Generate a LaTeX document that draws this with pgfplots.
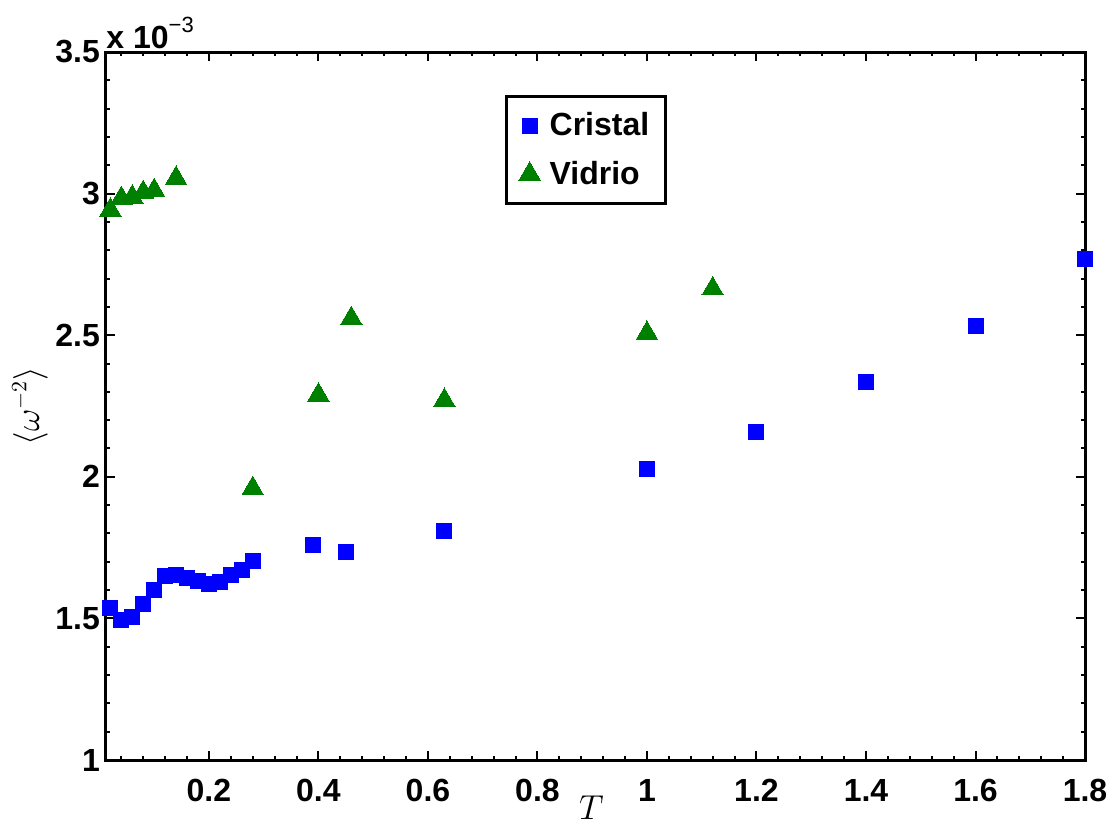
\documentclass[border=0pt]{standalone}
\usepackage{fontspec}
\setmainfont{Liberation Sans}
\usepackage{pgfplots}
\pgfplotsset{compat=1.18}
\definecolor{mblue}{RGB}{0,0,255}
\definecolor{mgreen}{RGB}{0,128,0}
\begin{document}
\begin{tikzpicture}
\path[use as bounding box] (-53pt,-35.5pt) rectangle (503pt,380pt);
\begin{axis}[
  at={(0,0)}, anchor=south west,
  scale only axis, width=489.5pt, height=354pt,
  xmin=0.012, xmax=1.8, ymin=1, ymax=3.5,
  xtick={0.2,0.4,0.6,0.8,1,1.2,1.4,1.6,1.8},
  xticklabels={0.2,0.4,0.6,0.8,1,1.2,1.4,1.6,1.8},
  ytick={1,1.5,2,2.5,3,3.5},
  yticklabels={1,1.5,2,2.5,3,3.5},
  minor xtick={0.04,0.08,...,1.79},
  minor ytick={1.1,1.2,...,3.45},
  tick align=inside, tick pos=both,
  major tick length=4.5pt, minor tick length=2.2pt,
  every tick/.style={black, line width=1pt},
  axis line style={line width=1.5pt},
  ticklabel style={font=\fontsize{16}{19}\selectfont\bfseries},
  xticklabel style={yshift=-6pt},
  yticklabel style={xshift=0.5pt},
  xlabel={$T$},
  ylabel={$\langle\omega^{-2}\rangle$},
  every axis x label/.style={at={(axis description cs:0.5,0)}, anchor=center, xshift=-2pt, yshift=-24pt, font=\fontsize{16}{19}\selectfont},
  every axis y label/.style={at={(axis description cs:0,0.5)}, anchor=center, xshift=-38pt, rotate=90, font=\fontsize{16}{19}\selectfont},
  legend style={at={(axis description cs:0.408,0.939)}, anchor=north west, draw=black, line width=1.5pt,
    font=\fontsize{16}{19}\selectfont\bfseries, inner xsep=6pt, inner ysep=6pt, row sep=7pt,
    legend cell align=left},
  legend image code/.code={\path[draw=none, fill=none] (0.3cm-4pt,0) -- (0.3cm+8pt,0); \draw[#1, line width=0.4pt] plot coordinates {(0.3cm,0cm)};},
  clip=false,
]
\addplot[only marks, mark=square*, mark size=3.75pt, mark options={draw=mblue, fill=mblue, line width=0pt}] coordinates {
(0.02,1.535) (0.04,1.495) (0.06,1.506) (0.08,1.551) (0.10,1.602) (0.12,1.649) (0.14,1.654)
(0.16,1.641) (0.18,1.631) (0.20,1.621) (0.22,1.627) (0.24,1.652) (0.26,1.671) (0.28,1.703)
(0.39,1.759) (0.45,1.734) (0.63,1.810) (1.0,2.029) (1.2,2.158) (1.4,2.335) (1.6,2.532) (1.8,2.769)
};
\addlegendentry{Cristal}
\addplot[only marks, mark=triangle*, mark size=6.2pt, mark options={draw=mgreen, fill=mgreen, line width=0pt}] coordinates {
(0.02,2.942) (0.04,2.983) (0.06,2.988) (0.08,3.004) (0.10,3.011) (0.14,3.054)
(0.28,1.959) (0.40,2.289) (0.46,2.559) (0.63,2.270) (1.0,2.507) (1.12,2.664)
};
\addlegendentry{Vidrio}
\node[anchor=base west, inner sep=0pt, font=\fontsize{16}{19}\selectfont\bfseries] at (rel axis cs:0,1) [yshift=2pt, xshift=0pt] {x 10\raisebox{0.5em}{\fontsize{11}{13}\selectfont\mdseries −3}};
\end{axis}
\end{tikzpicture}
\end{document}
